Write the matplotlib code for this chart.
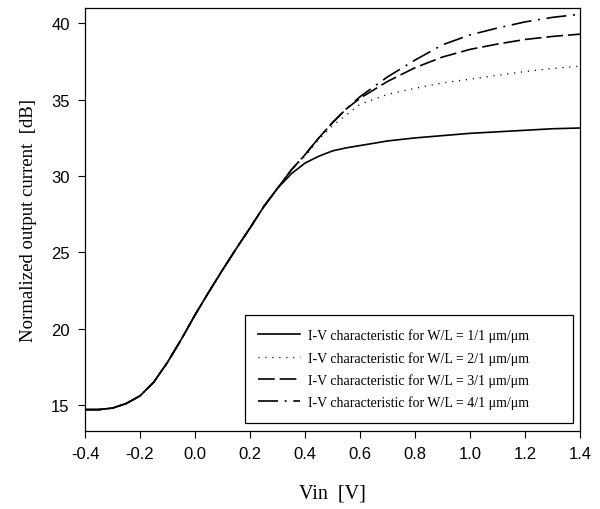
import matplotlib
matplotlib.use("Agg")
import matplotlib.pyplot as plt

vin = [-0.4, -0.35, -0.3, -0.25, -0.2, -0.15, -0.1, -0.05, 0.0, 0.05, 0.1, 0.15,
       0.2, 0.25, 0.3, 0.35, 0.4, 0.45, 0.5, 0.55, 0.6, 0.7, 0.8, 0.9, 1.0, 1.1,
       1.2, 1.3, 1.4]

common = [14.7, 14.7, 14.8, 15.1, 15.6, 16.5, 17.8, 19.3, 20.9, 22.4, 23.85, 25.25,
          26.6, 28.0, 29.2]

wl1 = common + [30.15, 30.85, 31.3, 31.65, 31.85, 32.0, 32.3, 32.5, 32.65, 32.8,
                32.9, 33.0, 33.1, 33.15]
wl2 = common + [30.4, 31.3, 32.4, 33.3, 34.0, 34.7, 35.35, 35.75, 36.1, 36.35,
                36.6, 36.85, 37.05, 37.2]
wl3 = common + [30.4, 31.4, 32.5, 33.5, 34.4, 35.1, 36.2, 37.1, 37.8, 38.3,
                38.65, 38.95, 39.15, 39.3]
wl4 = common + [30.4, 31.4, 32.5, 33.5, 34.4, 35.2, 36.5, 37.6, 38.6, 39.25,
                39.7, 40.1, 40.4, 40.6]

labels = ["I-V characteristic for W/L = 1/1 \u03bcm/\u03bcm",
          "I-V characteristic for W/L = 2/1 \u03bcm/\u03bcm",
          "I-V characteristic for W/L = 3/1 \u03bcm/\u03bcm",
          "I-V characteristic for W/L = 4/1 \u03bcm/\u03bcm"]

xticks = [-0.4, -0.2, 0.0, 0.2, 0.4, 0.6, 0.8, 1.0, 1.2, 1.4]
yticks = [15, 20, 25, 30, 35, 40]

fig = plt.figure(figsize=(6, 5.1), dpi=100)
ax = fig.add_axes([0.1417, 0.153, 0.825, 0.829])

ax.plot(vin, wl1, color="black", lw=1.2, linestyle="-", label=labels[0])
ax.plot(vin, wl2, color="black", lw=1.0, linestyle=(0, (0.8, 4.2)), label=labels[1])
ax.plot(vin, wl3, color="black", lw=1.2, linestyle=(0, (10, 3)), label=labels[2])
ax.plot(vin, wl4, color="black", lw=1.2, linestyle=(0, (12, 4, 1.2, 4)), label=labels[3])

ax.set_xlim(-0.4, 1.4)
ax.set_ylim(13.3, 41.0)
ax.set_xticks(xticks)
ax.set_xticklabels([f"{t:.1f}" for t in xticks])
ax.set_yticks(yticks)
ax.tick_params(direction="out", length=5, width=0.8, labelsize=12, pad=6)
for lab in ax.get_xticklabels() + ax.get_yticklabels():
    lab.set_fontfamily("Liberation Sans")
for s in ax.spines.values():
    s.set_linewidth(0.9)

ax.set_xlabel("Vin  [V]", fontfamily="Liberation Serif", fontsize=14.5, labelpad=16)
ax.set_ylabel("Normalized output current  [dB]", fontfamily="Liberation Serif",
              fontsize=13.5, labelpad=10)

leg = ax.legend(loc="lower left", bbox_to_anchor=(0.323, 0.02, 0.663, 0.26),
                mode="expand", prop={"family": "Liberation Serif", "size": 10},
                frameon=True, fancybox=False, edgecolor="black", framealpha=1,
                handlelength=3.0, handletextpad=0.6, borderpad=0.95, labelspacing=0.62,
                borderaxespad=0)
leg.get_frame().set_linewidth(0.9)

fig.savefig("out.png", dpi=100)
